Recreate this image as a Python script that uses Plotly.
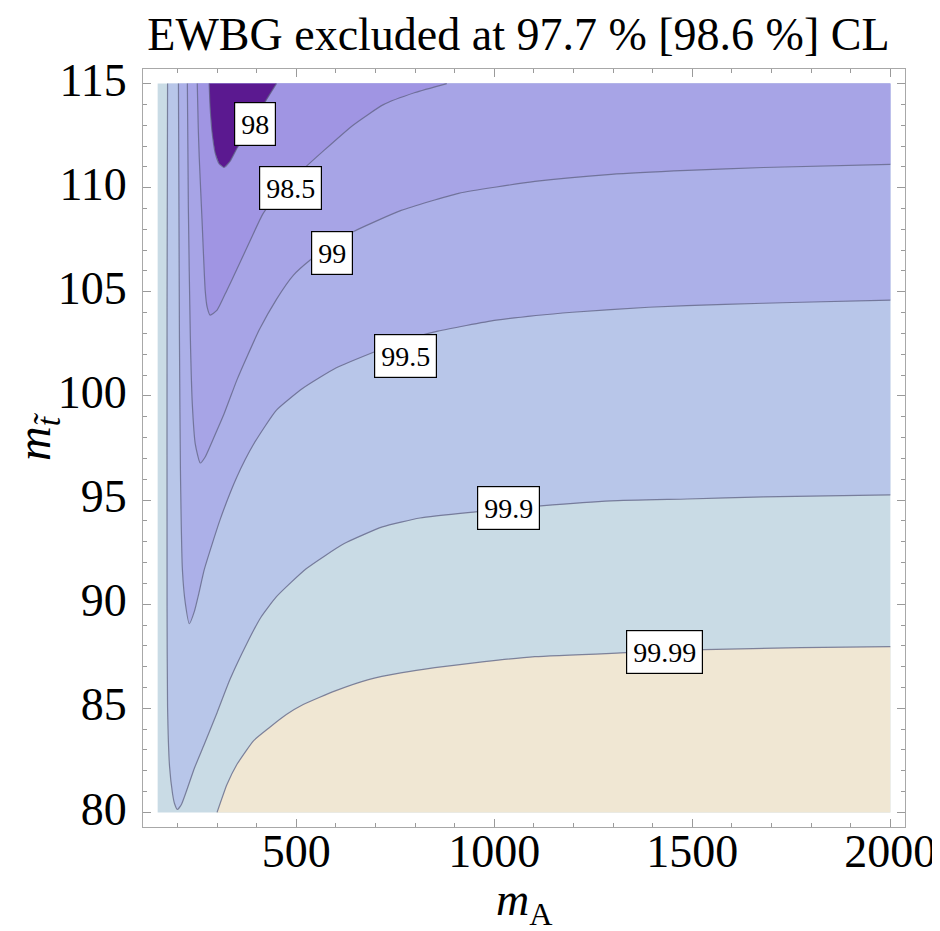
import plotly.graph_objects as go

# ---- data domain ----
MA_RANGE = [150, 2000]
MST_RANGE = [80, 115]

# ---- contour levels (CL %) ----
LEVELS = ["98", "98.5", "99", "99.5", "99.9", "99.99"]

# ---- contour lines (m_A, m_stop) ----
C98_X = [280, 282.5, 287.5, 295, 305, 317.5, 332.5, 350, 370, 390, 412.5, 432.5, 450]
C98_Y = [115, 113.85, 112.65, 111.69, 111.16, 110.97, 111.26, 111.88, 112.51, 113.13, 113.85, 114.47, 115]

C985_X = [250, 252.5, 255, 262.5, 270, 275, 282.5, 300, 325, 350, 387.5, 415, 450, 490, 570, 642.5, 720, 800, 880]
C985_Y = [115, 112.89, 111.45, 108.24, 105.08, 104.26, 103.88, 104.12, 105.08, 106.08, 107.62, 108.72, 109.63,
          110.40, 111.79, 112.99, 113.99, 114.57, 115]

C99_X = [225, 227.5, 232.5, 237.5, 245, 257.5, 270, 292.5, 317.5, 350, 375, 407.5, 450, 492.5, 537.5, 590, 645,
         765, 910, 1102.5, 1295, 1487.5, 1680, 2000]
C99_Y = [115, 109.05, 102.82, 99.61, 97.69, 96.78, 97.07, 98.03, 99.13, 100.76, 101.86, 103.21, 104.64, 105.79,
         106.56, 107.28, 107.90, 108.91, 109.73, 110.30, 110.64, 110.83, 110.97, 111.12]

C995_X = [202.5, 205, 207.5, 212.5, 220, 230, 242.5, 255, 267.5, 307.5, 350, 392.5, 450, 517.5, 600, 695, 775,
          857.5, 1005, 1197.5, 1390, 1582.5, 1775, 2000]
C995_Y = [115, 102.82, 96.45, 91.65, 90.02, 89.06, 89.64, 90.60, 91.65, 94.05, 96.11, 97.69, 99.32, 100.38,
          101.34, 102.10, 102.68, 103.11, 103.64, 104.02, 104.26, 104.40, 104.50, 104.60]

C999_X = [175, 173.75, 173.75, 175, 180, 187.5, 192.5, 200, 210, 225, 242.5, 267.5, 300, 332.5, 375, 410, 450,
          525, 620, 717.5, 812.5, 952.5, 1117.5, 1295, 1487.5, 1680, 2000]
C999_Y = [115, 104.26, 89.88, 85.08, 82.21, 80.91, 80.43, 80.14, 80.38, 81.15, 82.11, 83.26, 84.79, 86.38,
          88.10, 89.35, 90.36, 91.70, 92.90, 93.71, 94.14, 94.43, 94.72, 94.96, 95.05, 95.15, 95.25]

C9999_X = [300, 325, 350, 392.5, 432.5, 475, 517.5, 600, 682.5, 767.5, 850, 975, 1102.5, 1332.5, 1530, 1775, 2000]
C9999_Y = [80, 81.34, 82.30, 83.45, 84.08, 84.70, 85.18, 85.85, 86.38, 86.71, 86.95, 87.24, 87.48, 87.67,
           87.82, 87.91, 87.96]

# ---- contour label positions ----
LABEL_X = [395, 486, 591, 776, 1035, 1431]
LABEL_Y = [113.08, 109.99, 106.87, 101.94, 94.60, 87.70]

# ---- tick values ----
X_TICKS = [500, 1000, 1500, 2000]
Y_TICKS = [80, 85, 90, 95, 100, 105, 110, 115]

# ---- styles ----
COL_BAND_9999 = "#c9dbe5"   # 99.9 - 99.99
COL_ABOVE = "#f0e7d3"       # > 99.99
COL_BAND_999 = "#b8c6e9"    # 99.5 - 99.9
COL_BAND_995 = "#acb0e8"    # 99 - 99.5
COL_BAND_99 = "#a7a4e6"     # 98.5 - 99
COL_BAND_985 = "#a095e3"    # 98 - 98.5
COL_BELOW = "#5b1990"       # < 98
LINE_COL = "rgba(95,98,130,0.75)"
SERIF = "Liberation Serif, Times New Roman, serif"

fig = go.Figure()


def poly(xs, ys, color):
    fig.add_trace(go.Scatter(x=xs, y=ys, mode="lines", fill="toself", fillcolor=color,
                             line=dict(width=0, color=color), hoverinfo="skip", showlegend=False))


x0, x1 = MA_RANGE
y0, y1 = MST_RANGE
# background band
poly([x0, x1, x1, x0], [y0, y0, y1, y1], COL_BAND_9999)
# region above 99.99
poly(C9999_X + [x1], C9999_Y + [y0], COL_ABOVE)
# regions inside the U-shaped contours (open to the top / right)
poly(C999_X + [x1], C999_Y + [y1], COL_BAND_999)
poly(C995_X + [x1], C995_Y + [y1], COL_BAND_995)
poly(C99_X + [x1], C99_Y + [y1], COL_BAND_99)
poly(C985_X, C985_Y, COL_BAND_985)
poly(C98_X, C98_Y, COL_BELOW)

# contour lines
for cx, cy in [(C98_X, C98_Y), (C985_X, C985_Y), (C99_X, C99_Y), (C995_X, C995_Y),
               (C999_X, C999_Y), (C9999_X, C9999_Y)]:
    fig.add_trace(go.Scatter(x=cx, y=cy, mode="lines", line=dict(color=LINE_COL, width=1.2, shape="spline",
                                                                  smoothing=0.5),
                             hoverinfo="skip", showlegend=False))

annotations = []
for lab, lx, ly in zip(LEVELS, LABEL_X, LABEL_Y):
    annotations.append(dict(x=lx, y=ly, xref="x", yref="y", text=lab, showarrow=False,
                            font=dict(family=SERIF, size=28, color="black"), height=30,
                            bgcolor="white", bordercolor="black", borderwidth=1.2, borderpad=6))

# axis titles
annotations.append(dict(xref="paper", yref="paper", x=0.5, y=-0.1, yanchor="middle", xanchor="center",
                        text="<i>m</i><sub>A</sub>", showarrow=False,
                        font=dict(family=SERIF, size=46, color="black")))
annotations.append(dict(xref="paper", yref="paper", x=-0.14, y=0.515, yanchor="middle", xanchor="center",
                        text="<i>m</i><sub><i>t\u0303</i></sub>", showarrow=False, textangle=-90,
                        font=dict(family=SERIF, size=48, color="black")))

axis_common = dict(ticks="inside", ticklen=8, tickwidth=1, tickcolor="#9a9a9a", showline=True,
                   linecolor="#a8a8a8", linewidth=1, mirror="ticks", showgrid=False, zeroline=False,
                   tickfont=dict(family=SERIF, size=46, color="black"))

fig.update_layout(
    width=940, height=931,
    margin=dict(l=135, r=34, t=61, b=112),
    paper_bgcolor="white", plot_bgcolor="white",
    title=dict(text="EWBG excluded at 97.7 % [98.6 %] CL", x=0.543, xref="container", xanchor="center",
               y=0.9725, yref="container", yanchor="middle",
               font=dict(family=SERIF, size=46, color="black")),
    xaxis=dict(range=[113, 2037], tickvals=X_TICKS, ticktext=[str(v) for v in X_TICKS],
               minor=dict(dtick=100, tick0=0, ticks="inside", ticklen=4, tickcolor="#9a9a9a"),
               ticklabelstandoff=-16, **axis_common),
    yaxis=dict(range=[79.3, 115.7], tickvals=Y_TICKS, ticktext=[str(v) for v in Y_TICKS],
               minor=dict(dtick=1, tick0=0, ticks="inside", ticklen=4, tickcolor="#9a9a9a"),
               ticklabelstandoff=6, ticklabelshift=-4, **axis_common),
    annotations=annotations,
)

fig.write_html("out.html")
